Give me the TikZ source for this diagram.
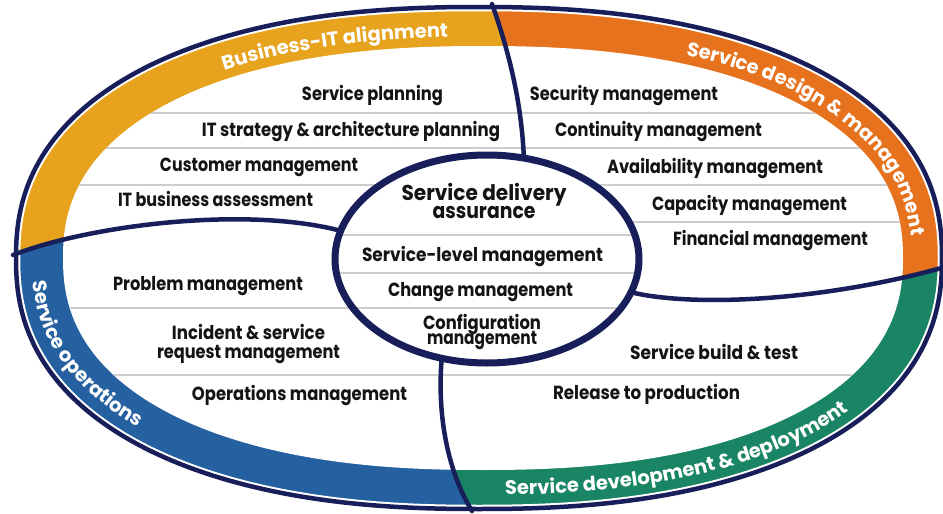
\documentclass[tikz,border=0pt]{standalone}
\usepackage{fontspec}
\usepackage{graphicx}
\setmainfont{Poppins}
\newfontfamily\labf{Poppins Bold}
\usetikzlibrary{decorations.text}
\definecolor{navy}{RGB}{23,30,90}
\definecolor{cyel}{RGB}{231,163,30}
\definecolor{cora}{RGB}{230,114,30}
\definecolor{cblu}{RGB}{37,96,160}
\definecolor{cgrn}{RGB}{25,133,100}
\definecolor{txt}{RGB}{20,20,20}
\definecolor{rule}{RGB}{205,205,205}
\pgfmathdeclarefunction{spx}{1}{\pgfmathparse{cos(#1)*pow(abs(cos(#1))+0.00001,-0.1304)}}
\pgfmathdeclarefunction{spy}{1}{\pgfmathparse{sin(#1)*pow(abs(sin(#1))+0.00001,-0.1304)}}
\newcommand\fitw[2]{\resizebox{#1pt}{\height}{#2}}
\newcommand\twoline[3]{\vbox{\baselineskip=#3\lineskiplimit=-50pt\lineskip=0pt\halign{\hfil##\hfil\cr#1\cr#2\cr}}}
\tikzset{
  lab/.style={font=\labf\fontsize{19}{19}\selectfont, text=txt, inner sep=0pt, anchor=base},
  ttl/.style={font=\labf\fontsize{21.5}{21.5}\selectfont, text=txt, inner sep=0pt, anchor=base},
  divider/.style={draw=navy, line width=4.5pt, line cap=round},
  grayrule/.style={draw=rule, line width=1.1pt},
  bandtext/.style={decorate, decoration={text along path, text color=white, text={|\labf\fontsize{19.5}{19.5}\selectfont|#1}}}
}
\begin{document}
\begin{tikzpicture}[x=1pt,y=-1pt]
\useasboundingbox (0,0) rectangle (943,514);
\fill[white] (0,0) rectangle (943,514);
% band and interior
\begin{scope}
\clip plot[domain=0:360, samples=241, smooth] ({479+463*spx(\x)},{258+251*spy(\x)}) -- cycle;
\fill[cyel] (-20,262) -- (13,255) .. controls (90,225) and (250,205) .. (336,230) -- (524,160) .. controls (522,110) and (512,60) .. (492,4) -- (490,-20) -- (-20,-20) -- cycle;
\fill[cora] (490,-20) -- (492,4) .. controls (512,60) and (522,110) .. (524,160) -- (630,292) .. controls (690,307) and (820,302) .. (945,267) -- (970,260) -- (970,-20) -- cycle;
\fill[cgrn] (970,260) -- (945,267) .. controls (820,302) and (690,307) .. (630,292) -- (442,355) .. controls (436,420) and (450,475) .. (472,511) -- (480,540) -- (970,540) -- cycle;
\fill[cblu] (480,540) -- (472,511) .. controls (450,475) and (436,420) .. (442,355) -- (336,230) .. controls (250,205) and (90,225) .. (13,255) -- (-20,262) -- (-20,540) -- cycle;
\fill[white] plot[domain=0:360, samples=241, smooth] ({483+420*spx(\x)},{258+212*spy(\x)}) -- cycle;
\clip plot[domain=0:360, samples=241, smooth] ({483+420*spx(\x)},{258+212*spy(\x)}) -- cycle;
\draw[grayrule] (0,113) -- (943,113);
\draw[grayrule] (0,148) -- (943,148);
\draw[grayrule] (0,185) -- (943,185);
\draw[grayrule] (500,222) -- (943,222);
\draw[grayrule] (0,308) -- (600,308);
\draw[grayrule] (0,375) -- (943,375);
\end{scope}
% outer rim
\draw[navy, line width=4.5pt, preaction={draw=white, line width=8.5pt}] plot[domain=0:360, samples=241, smooth] ({479+463*spx(\x)},{258+251*spy(\x)}) -- cycle;
% dividers
\draw[divider] (492,4) .. controls (512,60) and (522,110) .. (524,160);
\draw[divider] (13,255) .. controls (90,225) and (250,205) .. (345,232);
\draw[divider] (630,292) .. controls (690,307) and (820,302) .. (945,267);
\draw[divider] (442,355) .. controls (436,420) and (450,475) .. (472,511);
% centre ellipse
\fill[white] (487,259) ellipse [x radius=152, y radius=104];
\begin{scope}
\clip (487,259) ellipse [x radius=152, y radius=104];
\draw[grayrule] (300,235) -- (700,235);
\draw[grayrule] (300,273) -- (700,273);
\draw[grayrule] (300,308) -- (700,308);
\end{scope}
\draw[navy, line width=7pt] (487,259) ellipse [x radius=152, y radius=104];
% band labels
\path[bandtext={Business-IT alignment}] plot[domain=236:300, samples=65] ({483+429*spx(\x)},{258+221*spy(\x)});
\path[bandtext={Service design {\&} management}] plot[domain=295:360, samples=66] ({483+429*spx(\x)},{258+221*spy(\x)});
\path[bandtext={Service operations}] plot[domain=176:100, samples=77] ({481+449*spx(\x)},{258+237*spy(\x)});
\path[bandtext={Service development {\&} deployment}] plot[domain=88:12, samples=77] ({481+449*spx(\x)},{258+237*spy(\x)});
% texts
\node[lab] (sp) at (372.5,100.7) {\fitw{141}{Service planning}};
\node[lab] (its) at (351,136.7) {\fitw{298}{IT strategy \& architecture planning}};
\node[lab] (cm) at (259,171.7) {\fitw{198}{Customer management}};
\node[lab] (iba) at (215.5,206.7) {\fitw{195}{IT business assessment}};
\node[lab] (sec) at (624,100) {\fitw{188}{Security management}};
\node[lab] (con) at (658.5,136.7) {\fitw{207}{Continuity management}};
\node[lab] (ava) at (715,173) {\fitw{216}{Availability management}};
\node[lab] (cap) at (749.5,210) {\fitw{195}{Capacity management}};
\node[lab] (fin) at (770.5,245) {\fitw{195}{Financial management}};
\node[ttl] (sda) at (484,218.3) {\twoline{\fitw{165}{Service delivery}}{\fitw{103}{assurance}}{18.3pt}};
\node[lab] (slm) at (482.5,261.7) {\fitw{241}{Service-level management}};
\node[lab] (chm) at (480.5,296) {\fitw{185}{Change management}};
\node[lab] (cfg) at (482,344) {\twoline{\fitw{118}{Configuration}}{\fitw{110}{management}}{14.7pt}};
\node[lab] (pm) at (208,290) {\fitw{190}{Problem management}};
\node[lab] (inc) at (248.5,358.3) {\twoline{\fitw{153}{Incident \& service}}{\fitw{183}{request management}}{19pt}};
\node[lab] (opm) at (299.5,400) {\fitw{215}{Operations management}};
\node[lab] (sbt) at (714,359.3) {\fitw{168}{Service build \& test}};
\node[lab] (rtp) at (646.5,399.3) {\fitw{187}{Release to production}};
\end{tikzpicture}
\end{document}
